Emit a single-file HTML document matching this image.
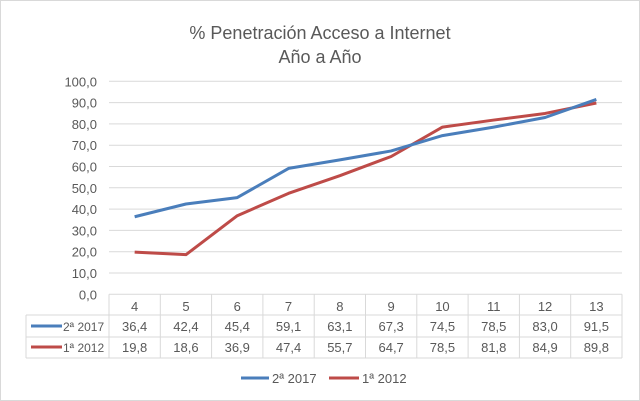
<!DOCTYPE html>
<html><head><meta charset="utf-8"><style>
body{margin:0;background:#fff;}
svg{display:block;font-family:"Liberation Sans",sans-serif;}
</style></head><body>
<svg width="640" height="401">
<rect x="0.5" y="0.5" width="639" height="400" fill="#fff" stroke="#d9d9d9"/>
<text x="320" y="39" text-anchor="middle" font-size="18" fill="#595959">% Penetración  Acceso a Internet</text>
<text x="320" y="63" text-anchor="middle" font-size="18" fill="#595959">Año a Año</text>
<g id="g"></g>
</svg>
<script>
const categories=["4","5","6","7","8","9","10","11","12","13"];
const s2017=[36.4,42.4,45.4,59.1,63.1,67.3,74.5,78.5,83.0,91.5];
const s2012=[19.8,18.6,36.9,47.4,55.7,64.7,78.5,81.8,84.9,89.8];
const yTicks=[0,10,20,30,40,50,60,70,80,90,100];
const NS="http://www.w3.org/2000/svg";
const g=document.getElementById('g');
const L=109,R=622,Y0=294.3,PX=2.13;
const cw=(R-L)/categories.length;
const xs=i=>L+cw*(i+0.5);
const ys=v=>Y0-v*PX;
const fmt=v=>v.toFixed(1).replace('.',',');
function mk(t,a,txt){const e=document.createElementNS(NS,t);for(const k in a)e.setAttribute(k,a[k]);if(txt!==undefined)e.textContent=txt;g.appendChild(e);return e;}
yTicks.forEach(v=>{
 if(v>0){const l=mk('line',{x1:L,x2:R,y1:ys(v),y2:ys(v),stroke:'#d9d9d9','stroke-width':1});
 
 }
 const t=mk('text',{x:97,y:ys(v)+5,'text-anchor':'end','font-size':13,fill:'#595959'},fmt(v));
 
 
});
const rows=[294.3,315,337,358];
const tb=mk('g',{stroke:'#d9d9d9','stroke-width':1,fill:'none'});


function ln(x1,y1,x2,y2){const e=document.createElementNS(NS,'line');e.setAttribute('x1',x1);e.setAttribute('y1',y1);e.setAttribute('x2',x2);e.setAttribute('y2',y2);tb.appendChild(e);}
ln(L,rows[0],R,rows[0]);ln(26,rows[1],R,rows[1]);ln(26,rows[2],R,rows[2]);ln(26,rows[3],R,rows[3]);
ln(26,rows[1],26,rows[3]);
for(let i=0;i<=categories.length;i++)ln(L+cw*i,rows[0],L+cw*i,rows[3]);
categories.forEach((c,i)=>{
 const t=mk('text',{x:xs(i),y:311,'text-anchor':'middle','font-size':13,fill:'#595959'},c);
 
 
});
const series=[{name:'2ª 2017',vals:s2017,col:'#4a7ebb',y:331},{name:'1ª 2012',vals:s2012,col:'#be4b48',y:352}];
series.forEach((s,k)=>{
 const lk=mk('line',{x1:31,x2:62,y1:s.y-5,y2:s.y-5,stroke:s.col,'stroke-width':3});
 
 
 const lt=mk('text',{x:63,y:s.y,'font-size':12,fill:'#595959'},s.name);
 
 
 s.vals.forEach((v,i)=>{
  const t=mk('text',{x:xs(i),y:s.y,'text-anchor':'middle','font-size':13,fill:'#595959'},fmt(v));
  
  
 });
});
[1,0].forEach(k=>{const s=series[k];
 const p=mk('polyline',{points:s.vals.map((v,i)=>xs(i)+','+ys(v)).join(' '),fill:'none',stroke:s.col,'stroke-width':3,'stroke-linejoin':'round'});
 
 
});
[[241,269,272,'2ª 2017',0],[329,359,362,'1ª 2012',1]].forEach(a=>{
 const l=mk('line',{x1:a[0],x2:a[1],y1:378,y2:378,stroke:series[a[4]].col,'stroke-width':3});
 
 
 const t=mk('text',{x:a[2],y:383,'font-size':13,fill:'#595959'},a[3]);
 
 
});
</script>
</body></html>
